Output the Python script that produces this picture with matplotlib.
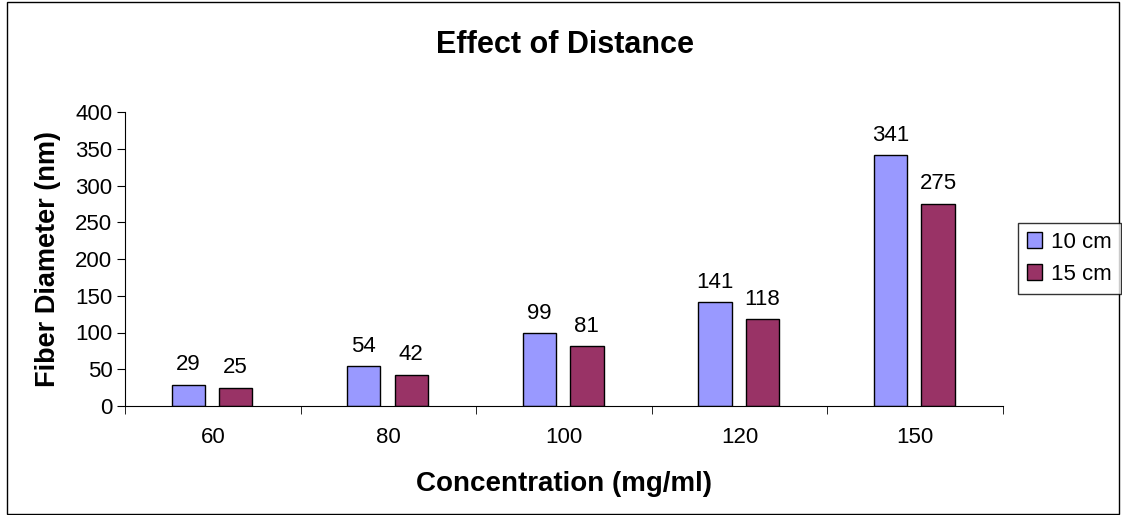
import matplotlib
matplotlib.use("Agg")
import matplotlib.pyplot as plt
from matplotlib.patches import Rectangle
import numpy as np

plt.rcParams['font.family'] = ['Liberation Sans', 'DejaVu Sans']

categories = ['60', '80', '100', '120', '150']
series_names = ['10 cm', '15 cm']
values_10cm = [29, 54, 99, 141, 341]
values_15cm = [25, 42, 81, 118, 275]
colors = ['#9999FF', '#993366']

fig = plt.figure(figsize=(11.22, 5.15), dpi=100)
ax = fig.add_axes([125/1122, 1 - 406/515, (1003-125)/1122, (406-112)/515])

x = np.arange(len(categories))
w = 0.19
offs = [-0.14, 0.13]
for vals, off, c, name in zip([values_10cm, values_15cm], offs, colors, series_names):
    bars = ax.bar(x + off, vals, width=w, color=c, edgecolor='black', linewidth=1, label=name)
    for b, v in zip(bars, vals):
        ax.annotate(str(v), (b.get_x() + b.get_width()/2, v), xytext=(0, 7), textcoords='offset points',
                    ha='center', va='bottom', fontsize=16)

ax.set_xlim(-0.5, len(categories) - 0.5)
ax.set_ylim(0, 400)
ax.set_yticks(range(0, 401, 50))
ax.set_xticks(x)
ax.set_xticklabels(categories)
ax.set_xticks(np.arange(-0.5, len(categories)), minor=True)
ax.tick_params(axis='x', which='major', length=0, pad=15, labelsize=16)
ax.tick_params(axis='x', which='minor', length=6, direction='out')
ax.tick_params(axis='y', length=6, direction='out', labelsize=16, pad=3)
for s in ['top', 'right']:
    ax.spines[s].set_visible(False)

ax.set_xlabel('Concentration (mg/ml)', fontsize=20, fontweight='bold', labelpad=17)
ax.set_ylabel('Fiber Diameter (nm)', fontsize=19.5, fontweight='bold', labelpad=10)
fig.text(565/1122, 1 - 45/515, 'Effect of Distance', ha='center', va='center', fontsize=22, fontweight='bold')

leg = fig.legend(loc='upper left', bbox_to_anchor=(1018/1122, 1 - 223/515), fontsize=16,
                 frameon=True, fancybox=False, edgecolor='black', handlelength=0.7, handleheight=0.7,
                 handletextpad=0.4, borderpad=0.4, labelspacing=0.5, borderaxespad=0)
leg.get_frame().set_linewidth(1)

fig.patches.append(Rectangle((7/1122, 1/515), (1119-7)/1122, (513-1)/515, transform=fig.transFigure,
                             fill=False, edgecolor='black', linewidth=1))

fig.savefig('out.png', dpi=100)
